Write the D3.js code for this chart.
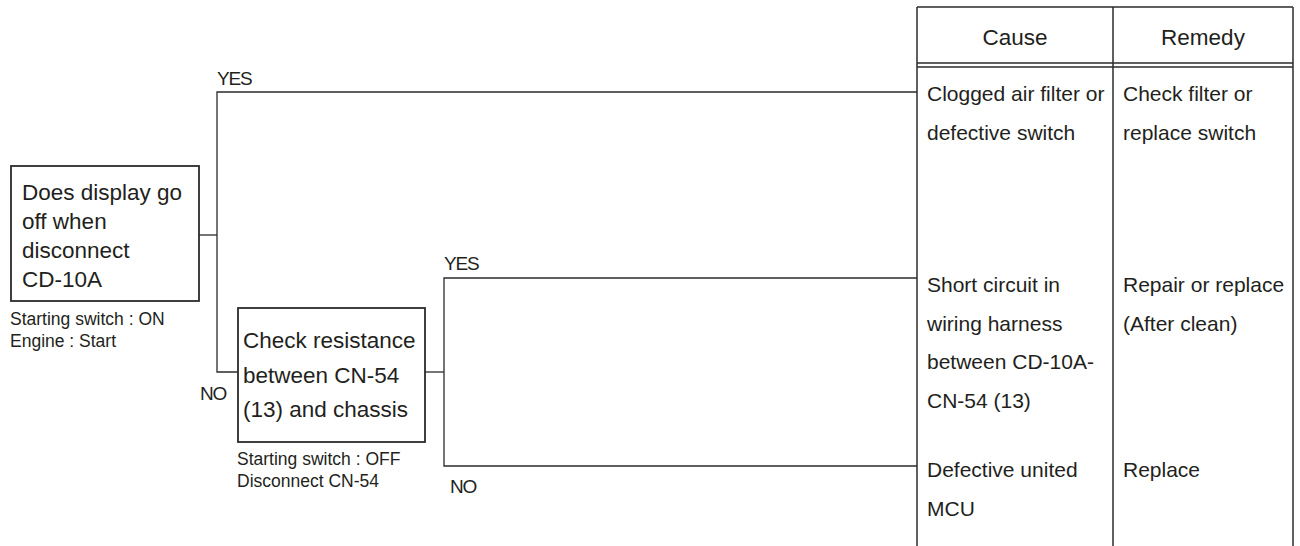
<!DOCTYPE html>
<html>
<head>
<meta charset="utf-8">
<script src="https://cdn.jsdelivr.net/npm/d3@7"></script>
<style>
  html, body { margin: 0; padding: 0; background: #fff; }
  svg text { font-family: "Liberation Sans", Arial, Helvetica, sans-serif; fill: #231f20; }
</style>
</head>
<body>
<div id="chart"></div>
<script>
// Troubleshooting flow: display stays on -> cause / remedy table

const headers = ['Cause', 'Remedy'];
const causes = [
  ['Clogged air filter or', 'defective switch'],
  ['Short circuit in', 'wiring harness', 'between CD-10A-', 'CN-54 (13)'],
  ['Defective united', 'MCU'],
];
const remedies = [
  ['Check filter or', 'replace switch'],
  ['Repair or replace', '(After clean)'],
  ['Replace'],
];
const questions = [
  ['Does display go', 'off when', 'disconnect', 'CD-10A'],
  ['Check resistance', 'between CN-54', '(13) and chassis'],
];
const conditions = [
  ['Starting switch : ON', 'Engine : Start'],
  ['Starting switch : OFF', 'Disconnect CN-54'],
];
const branchLabels = ['YES', 'NO', 'YES', 'NO'];

const W = 1300, H = 546;
const ink = '#2b2b2b';

const svg = d3.select('#chart').append('svg')
  .attr('width', W).attr('height', H)
  .attr('viewBox', `0 0 ${W} ${H}`);

// table geometry
const tbl = { x0: 917, x1: 1113, x2: 1293, top: 7, bottom: 560, hd1: 63, hd2: 67 };
const rowY = [101, 292, 477];   // first baseline per row
const rowLine = 38.5;
// connector y per result row (where lines hit the table)
const hitY = [92, 278, 466];

// decision boxes
const boxes = [
  { x: 11, y: 166, w: 188, h: 135, tx: 22, ty: 200, lh: 29 },
  { x: 238, y: 308, w: 187, h: 134, tx: 243, ty: 348, lh: 34.5 },
];
const notePos = [{ x: 10, y: 325 }, { x: 237, y: 465 }];

function lines(g, arr, x, y, lh, size, anchor) {
  g.selectAll(null).data(arr).enter().append('text')
    .attr('x', x).attr('y', (d, i) => y + i * lh)
    .attr('font-size', size)
    .attr('text-anchor', anchor || 'start')
    .text(d => d);
}

// ---- connectors
const link = d3.line();
const paths = [
  [[199, 235], [217, 235]],
  [[917, hitY[0]], [217, hitY[0]], [217, 372], [238, 372]],
  [[425, 372], [444, 372]],
  [[917, hitY[1]], [444, hitY[1]], [444, hitY[2]], [917, hitY[2]]],
];
svg.append('g').selectAll('path').data(paths).enter().append('path')
  .attr('d', link)
  .attr('fill', 'none').attr('stroke', ink).attr('stroke-width', 1.3);

// branch labels
const labelPos = [{ x: 217, y: 85 }, { x: 200, y: 400 }, { x: 444, y: 270 }, { x: 450, y: 493 }];
svg.append('g').selectAll('text').data(branchLabels).enter().append('text')
  .attr('x', (d, i) => labelPos[i].x).attr('y', (d, i) => labelPos[i].y)
  .attr('font-size', 19).attr('letter-spacing', -1.2)
  .text(d => d);

// ---- decision boxes
boxes.forEach((b, i) => {
  const g = svg.append('g');
  g.append('rect').attr('x', b.x).attr('y', b.y).attr('width', b.w).attr('height', b.h)
    .attr('fill', '#fff').attr('stroke', ink).attr('stroke-width', 1.8);
  lines(g, questions[i], b.tx, b.ty, b.lh, 22.5);
  lines(g, conditions[i], notePos[i].x, notePos[i].y, 22, 17.5);
});

// ---- cause / remedy table
const t = svg.append('g');
const vx = [tbl.x0, tbl.x1, tbl.x2];
t.selectAll('line.v').data(vx).enter().append('line')
  .attr('x1', d => d).attr('x2', d => d).attr('y1', tbl.top).attr('y2', tbl.bottom)
  .attr('stroke', ink).attr('stroke-width', 1.5);
t.selectAll('line.h').data([tbl.top, tbl.hd1, tbl.hd2]).enter().append('line')
  .attr('x1', tbl.x0).attr('x2', tbl.x2).attr('y1', d => d).attr('y2', d => d)
  .attr('stroke', ink).attr('stroke-width', 1.5);

lines(t, [headers[0]], (tbl.x0 + tbl.x1) / 2, 45, 0, 22.5, 'middle');
lines(t, [headers[1]], (tbl.x1 + tbl.x2) / 2, 45, 0, 22.5, 'middle');

causes.forEach((c, i) => lines(t, c, tbl.x0 + 10, rowY[i], rowLine, 21));
remedies.forEach((r, i) => lines(t, r, tbl.x1 + 10, rowY[i], rowLine, 21));
</script>
</body>
</html>
